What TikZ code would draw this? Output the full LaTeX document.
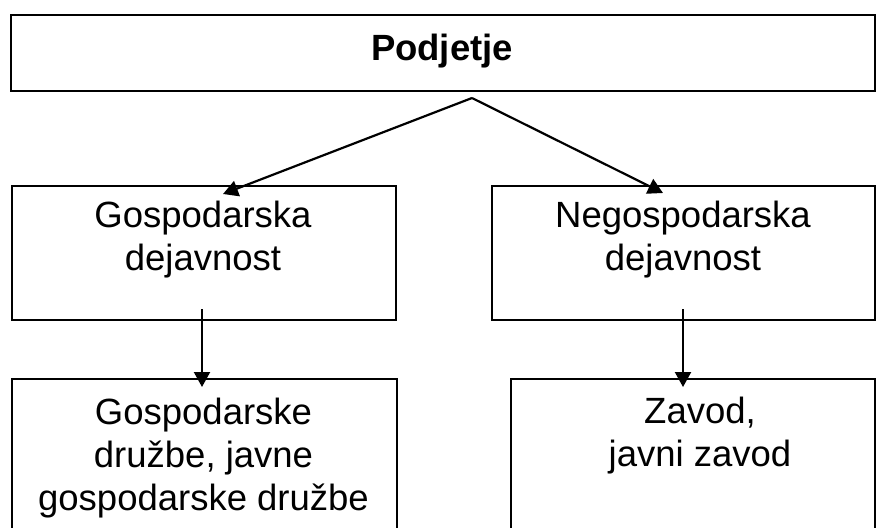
\documentclass[tikz,border=0pt]{standalone}
\usepackage{fontspec}
\setmainfont{Liberation Sans}
\usetikzlibrary{arrows.meta}
\begin{document}
\begin{tikzpicture}[x=1pt,y=-1pt,
  box/.style={draw=black,line width=1.8pt,inner sep=0pt,anchor=north west},
  txt/.style={align=center,inner sep=0pt,anchor=north,
    font=\fontsize{36.5}{43}\selectfont},
  conn/.style={line width=2.2pt,-{Triangle[length=15pt,width=16pt]}}]
\clip (0,0) rectangle (880,527);
\useasboundingbox (0,0) rectangle (880,527);
\fill[white] (0,0) rectangle (880,527);

% boxes
\node[box,minimum width=864pt,minimum height=76pt] (top) at (10,14) {};
\node[box,minimum width=384pt,minimum height=134pt] (gd) at (11,185) {};
\node[box,minimum width=383pt,minimum height=134pt] (ngd) at (491,185) {};
\node[box,minimum width=385pt,minimum height=170pt] (gdr) at (11,378) {};
\node[box,minimum width=364pt,minimum height=170pt] (zav) at (510,378) {};

% labels
\node[txt,font=\fontsize{36.5}{43}\selectfont\bfseries] (ttop) at (442,34) {Podjetje};
\node[txt] (tgd) at (203,201) {Gospodarska\\dejavnost};
\node[txt] (tngd) at (683,201) {Negospodarska\\dejavnost};
\node[txt] (tgdr) at (203.5,398) {Gospodarske\\družbe, javne\\gospodarske družbe};
\node[txt] (tzav) at (700,397) {Zavod,\\javni zavod};

% connector end points
\coordinate (apex) at (472,98);
\coordinate (gdin) at (223,194);
\coordinate (ngdin) at (663,193);
\coordinate (gdout) at (202,309);
\coordinate (gdrin) at (202,387);
\coordinate (ngdout) at (683,309);
\coordinate (zavin) at (683,387);

% connectors
\draw[conn,line join=miter] (apex) -- (gdin);
\draw[conn,line join=miter] (apex) -- (ngdin);
\draw[conn] (gdout) -- (gdrin);
\draw[conn] (ngdout) -- (zavin);
\end{tikzpicture}
\end{document}
